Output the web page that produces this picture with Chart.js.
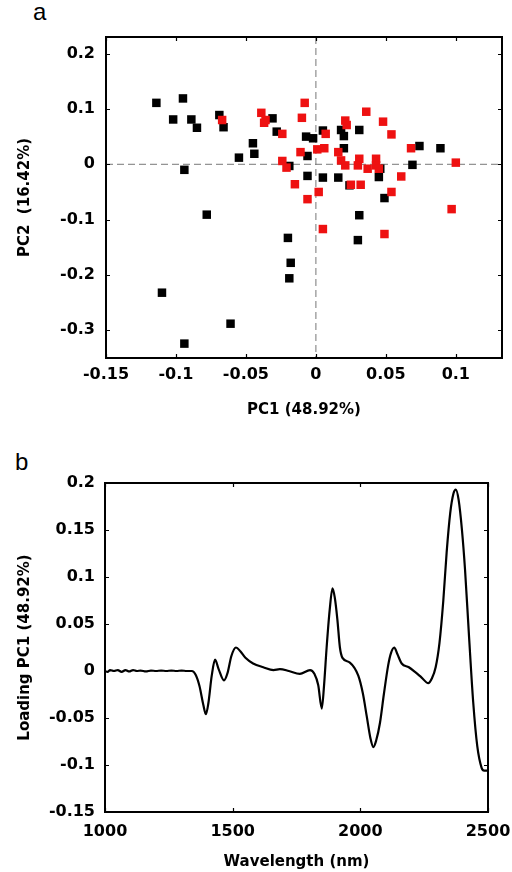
<!DOCTYPE html>
<html>
<head>
<meta charset="utf-8">
<script src="https://cdn.jsdelivr.net/npm/chart.js@4.4.0/dist/chart.umd.min.js"></script>
<style>
  body { margin: 0; background: #fff; width: 512px; height: 872px; position: relative; overflow: hidden; }
  canvas { position: absolute; left: 0; }
  .tag { position: absolute; font-family: 'Liberation Sans', Arial, sans-serif; font-size: 24px; color: #000; }
</style>
</head>
<body>
<div class="tag" style="left:33px; top:-2px;">a</div>
<canvas id="scoreChart" width="512" height="430" style="top:0"></canvas>
<div class="tag" style="left:15px; top:448px;">b</div>
<canvas id="loadingChart" width="512" height="442" style="top:430px"></canvas>
<script>
'use strict'

// panel a: PCA scores
let blackPC1 = [-0.114, -0.095, -0.102, -0.089, -0.085, -0.094, -0.069, -0.066, -0.055, -0.045, -0.044, -0.031, -0.028, -0.019,
  -0.007, -0.002, -0.006, -0.006, 0.005, 0.005, 0.018, 0.020, 0.020, 0.031, 0.016, 0.024, 0.046, 0.045, 0.049, 0.069,
  0.074, 0.089, 0.031, 0.030, -0.020, -0.018, -0.019, -0.078, -0.110, -0.094, -0.061]
let blackPC2 = [0.111, 0.119, 0.081, 0.081, 0.066, -0.010, 0.089, 0.067, 0.012, 0.038, 0.019, 0.083, 0.059, -0.003,
  0.050, 0.047, 0.015, -0.021, -0.024, 0.061, 0.062, 0.051, 0.029, 0.062, -0.024, -0.038, -0.008, -0.023, -0.061, -0.001,
  0.033, 0.029, -0.092, -0.137, -0.133, -0.178, -0.206, -0.091, -0.232, -0.324, -0.288]
let redPC1 = [-0.067, -0.039, -0.036, -0.037, -0.024, -0.024, -0.021, -0.015, -0.011, -0.008, -0.010, -0.006, 0.001, 0.006,
  0.007, 0.021, 0.022, 0.016, 0.018, 0.021, 0.031, 0.030, 0.036, 0.048, 0.054, 0.037, 0.043, 0.043, 0.045, 0.061,
  0.068, 0.100, 0.002, 0.025, 0.032, 0.054, 0.097, 0.005, 0.049]
let redPC2 = [0.080, 0.093, 0.080, 0.075, 0.055, 0.006, -0.006, -0.036, 0.022, 0.111, 0.084, -0.063, 0.027, 0.029,
  0.055, 0.079, 0.071, 0.022, 0.007, -0.002, 0.010, -0.002, 0.095, 0.077, 0.054, -0.008, 0.010, -0.002, -0.008, -0.022,
  0.029, 0.003, -0.050, -0.037, -0.037, -0.050, -0.081, -0.117, -0.126]
let pc1Ticks = [-0.15, -0.1, -0.05, 0, 0.05, 0.1]
let pc2Ticks = [-0.3, -0.2, -0.1, 0, 0.1, 0.2]

// panel b: PC1 loading
let wavelengths = [1000, 1010, 1020, 1035, 1050, 1065, 1080, 1095, 1110, 1125, 1140, 1160, 1180, 1200, 1220, 1240, 1260, 1280,
  1300, 1320, 1340, 1355, 1370, 1385, 1395, 1405, 1418, 1431, 1445, 1466, 1480, 1495, 1513, 1530, 1550, 1580, 1620, 1660,
  1685, 1720, 1763, 1803, 1820, 1835, 1849, 1858, 1868, 1880, 1891, 1900, 1910, 1920, 1930, 1959, 1992, 2010, 2025, 2040,
  2051, 2062, 2077, 2092, 2109, 2120, 2133, 2145, 2162, 2190, 2214, 2240, 2266, 2280, 2295, 2310, 2325, 2338, 2352, 2365,
  2374, 2385, 2398, 2410, 2425, 2442, 2458, 2475, 2485, 2494, 2500]
let loadingPC1 = [0.000, -0.001, 0.001, 0.000, 0.001, -0.001, 0.001, -0.0005, 0.001, 0.000, 0.0005, -0.0005, 0.0005, 0.000,
  0.0005, 0.000, 0.0005, 0.000, 0.0005, 0.000, 0.000, -0.004, -0.016, -0.036, -0.046, -0.034, -0.005, 0.012, 0.002, -0.010,
  -0.002, 0.016, 0.025, 0.021, 0.014, 0.008, 0.004, 0.001, 0.002, 0.000, -0.003, 0.001, -0.003, -0.015, -0.040, -0.015,
  0.025, 0.065, 0.088, 0.078, 0.055, 0.025, 0.014, 0.009, -0.005, -0.024, -0.048, -0.072, -0.081, -0.074, -0.055, -0.025,
  0.006, 0.019, 0.025, 0.018, 0.008, 0.004, -0.001, -0.007, -0.013, -0.008, 0.004, 0.030, 0.075, 0.126, 0.168, 0.189,
  0.193, 0.182, 0.150, 0.108, 0.040, -0.033, -0.080, -0.103, -0.106, -0.106, -0.106]
let waveTicks = [1000, 1500, 2000, 2500]
let loadTicks = [-0.15, -0.1, -0.05, 0, 0.05, 0.1, 0.15, 0.2]

Chart.defaults.font.family = "'DejaVu Sans', sans-serif"
Chart.defaults.color = '#000'

function fmt(v) {
  return String(parseFloat(v.toFixed(3)))
}

function setTicks(list) {
  return function (scale) {
    scale.ticks = list.map(v => ({ value: v }))
  }
}

// box round the plot with short inward tick marks on all four sides
const framePlugin = {
  id: 'frame',
  afterDatasetsDraw(chart) {
    let ctx = chart.ctx
    let a = chart.chartArea
    let xs = chart.scales.x
    let ys = chart.scales.y
    ctx.save()
    ctx.strokeStyle = '#000'
    ctx.lineWidth = 1.2
    ctx.beginPath()
    xs.ticks.forEach(t => {
      let px = Math.round(xs.getPixelForValue(t.value)) + 0.5
      ctx.moveTo(px, a.bottom); ctx.lineTo(px, a.bottom - 4)
      ctx.moveTo(px, a.top); ctx.lineTo(px, a.top + 4)
    })
    ys.ticks.forEach(t => {
      let py = Math.round(ys.getPixelForValue(t.value)) + 0.5
      ctx.moveTo(a.left, py); ctx.lineTo(a.left + 4, py)
      ctx.moveTo(a.right, py); ctx.lineTo(a.right - 4, py)
    })
    ctx.stroke()
    ctx.lineWidth = 2
    ctx.strokeRect(a.left, a.top, a.right - a.left, a.bottom - a.top)
    ctx.restore()
  }
}

// dashed lines through the origin for the score plot
const zeroPlugin = {
  id: 'zeroLines',
  beforeDatasetsDraw(chart) {
    let ctx = chart.ctx
    let a = chart.chartArea
    let px = chart.scales.x.getPixelForValue(0)
    let py = chart.scales.y.getPixelForValue(0)
    ctx.save()
    ctx.strokeStyle = '#777'
    ctx.lineWidth = 1
    ctx.setLineDash([7, 4])
    ctx.beginPath()
    ctx.moveTo(a.left, py); ctx.lineTo(a.right, py)
    ctx.moveTo(px, a.top); ctx.lineTo(px, a.bottom)
    ctx.stroke()
    ctx.restore()
  }
}

let scoreCtx = document.getElementById('scoreChart')
new Chart(scoreCtx, {
  type: 'scatter',
  data: {
    datasets: [{
      label: 'red',
      data: redPC1.map((v, i) => ({ x: v, y: redPC2[i] })),
      backgroundColor: '#ee1111',
      borderColor: '#ee1111',
      pointStyle: 'rect',
      pointRadius: 6,
      borderWidth: 0
    }, {
      label: 'black',
      data: blackPC1.map((v, i) => ({ x: v, y: blackPC2[i] })),
      backgroundColor: '#000',
      borderColor: '#000',
      pointStyle: 'rect',
      pointRadius: 6,
      borderWidth: 0
    }]
  },
  options: {
    responsive: false,
    animation: false,
    layout: { padding: { left: 0, right: 10, top: 37, bottom: 0 } },
    plugins: { legend: { display: false }, tooltip: { enabled: false } },
    scales: {
      x: {
        type: 'linear',
        min: -0.15,
        max: 0.133,
        afterBuildTicks: setTicks(pc1Ticks),
        afterFit: s => { s.height = 72 },
        grid: { display: false, drawTicks: false },
        border: { display: false },
        ticks: { padding: 7, maxRotation: 0, font: { size: 16, weight: 'bold' }, callback: v => fmt(v) },
        title: { display: true, text: 'PC1 (48.92%)', font: { size: 15, weight: 'bold' }, padding: { top: 0, bottom: 11 } }
      },
      y: {
        min: -0.35,
        max: 0.23,
        afterBuildTicks: setTicks(pc2Ticks),
        afterFit: s => { s.width = 106 },
        grid: { display: false, drawTicks: false },
        border: { display: false },
        ticks: { padding: 11, font: { size: 16, weight: 'bold' }, callback: v => fmt(v) },
        title: { display: true, text: 'PC2  (16.42%)', font: { size: 15, weight: 'bold' }, padding: { top: 16, bottom: 0 } }
      }
    }
  },
  plugins: [zeroPlugin, framePlugin]
})

let loadCtx = document.getElementById('loadingChart')
new Chart(loadCtx, {
  type: 'line',
  data: {
    datasets: [{
      label: 'Loading PC1',
      data: wavelengths.map((w, i) => ({ x: w, y: loadingPC1[i] })),
      borderColor: '#000',
      borderWidth: 2.2,
      pointRadius: 0,
      fill: false,
      cubicInterpolationMode: 'monotone'
    }]
  },
  options: {
    responsive: false,
    animation: false,
    layout: { padding: { left: 0, right: 0, top: 53, bottom: 0 } },
    plugins: { legend: { display: false }, tooltip: { enabled: false } },
    scales: {
      x: {
        type: 'linear',
        min: 1000,
        max: 2500,
        afterBuildTicks: setTicks(waveTicks),
        afterFit: s => { s.height = 60; s.paddingRight = 24 },
        grid: { display: false, drawTicks: false },
        border: { display: false },
        ticks: { padding: 10, maxRotation: 0, font: { size: 16, weight: 'bold' }, callback: v => fmt(v) },
        title: { display: true, text: 'Wavelength (nm)', font: { size: 15, weight: 'bold' }, padding: { top: 0, bottom: 1 } }
      },
      y: {
        min: -0.15,
        max: 0.2,
        afterBuildTicks: setTicks(loadTicks),
        afterFit: s => { s.width = 105 },
        grid: { display: false, drawTicks: false },
        border: { display: false },
        ticks: { padding: 10, font: { size: 16, weight: 'bold' }, callback: v => fmt(v) },
        title: { display: true, text: 'Loading PC1 (48.92%)', font: { size: 15, weight: 'bold' }, padding: { top: 16, bottom: 0 } }
      }
    }
  },
  plugins: [framePlugin]
})
</script>
</body>
</html>
